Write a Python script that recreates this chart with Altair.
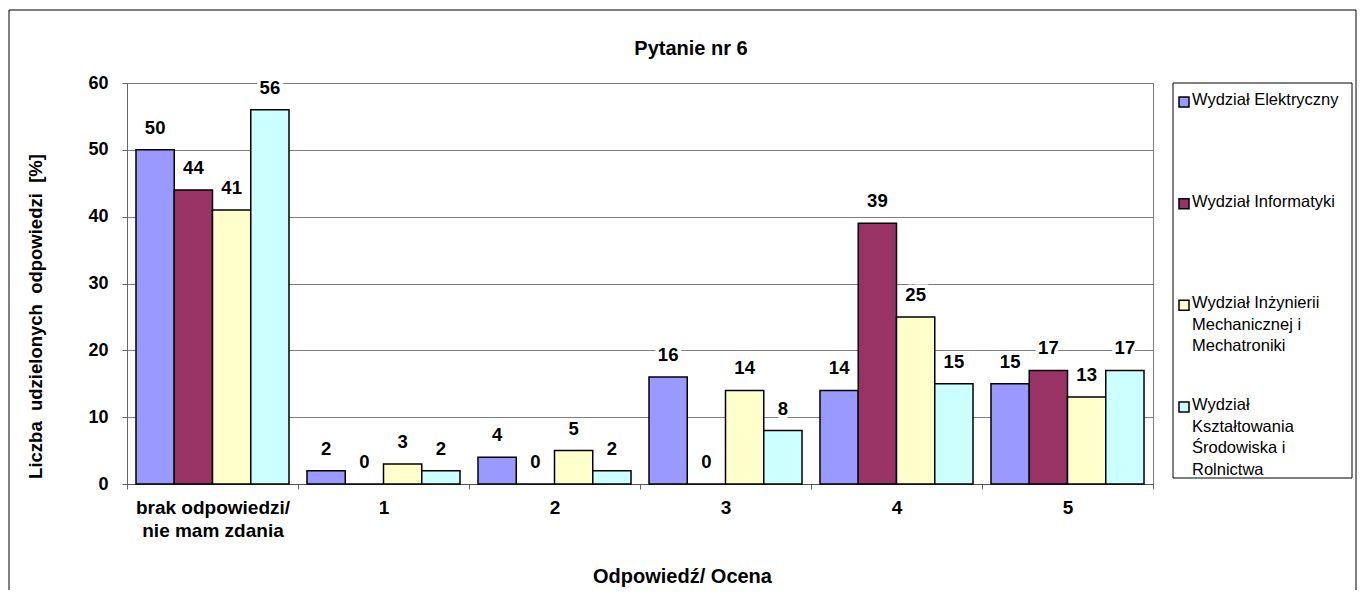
import altair as alt
import pandas as pd

categories = ["brak odpowiedzi/\nnie mam zdania", "1", "2", "3", "4", "5"]
series = [
    "Wydział Elektryczny",
    "Wydział Informatyki",
    "Wydział Inżynierii Mechanicznej i Mechatroniki",
    "Wydział Kształtowania Środowiska i Rolnictwa",
]
legend_labels = [
    "Wydział Elektryczny",
    "Wydział Informatyki",
    "Wydział Inżynierii\nMechanicznej i\nMechatroniki",
    "Wydział\nKształtowania\nŚrodowiska i\nRolnictwa",
]
colors = ["#9999FF", "#993366", "#FFFFCC", "#CCFFFF"]
elektryczny = [50, 2, 4, 16, 14, 15]
informatyki = [44, 0, 0, 0, 39, 17]
inzynierii = [41, 3, 5, 14, 25, 13]
ksztaltowania = [56, 2, 2, 8, 15, 17]
y_ticks = [0, 10, 20, 30, 40, 50, 60]

FONT = "Liberation Sans"
NB = "\u00a0"

rows = []
for s, vals in zip(series, [elektryczny, informatyki, inzynierii, ksztaltowania]):
    for c, v in zip(categories, vals):
        rows.append({"category": c, "series": s, "value": v})
df = pd.DataFrame(rows)

leg_df = pd.DataFrame({"series": series, "label": legend_labels, "row": list(range(len(series)))})

x_enc = alt.X(
    "category:N",
    sort=categories,
    scale=alt.Scale(paddingInner=0, paddingOuter=0),
    axis=alt.Axis(
        title="Odpowiedź/ Ocena",
        labelExpr="split(datum.label, '\\n')",
        labelAngle=0,
        labelFontSize=19,
        labelFontWeight="bold",
        labelColor="black",
        labelPadding=9,
        labelLineHeight=23,
        labelFont=FONT,
        tickBand="extent",
        tickSize=5,
        tickColor="#666666",
        domainColor="#555555",
        grid=False,
        titleFontSize=20,
        titleFontWeight="bold",
        titleFont=FONT,
        titleColor="black",
        titleX=555,
        titleY=92,
        titleBaseline="middle",
        titleAlign="center",
    ),
)
xo_enc = alt.XOffset(
    "series:N", sort=series,
    scale=alt.Scale(domain=series, paddingInner=0, paddingOuter=0.235),
)
y_enc = alt.Y(
    "value:Q",
    scale=alt.Scale(domain=[0, 60], nice=False),
    axis=alt.Axis(
        values=y_ticks,
        title=f"Liczba{NB}{NB}udzielonych{NB}{NB}odpowiedzi{NB}{NB}[%]",
        labelFontSize=18,
        labelFontWeight="bold",
        labelColor="black",
        labelFont=FONT,
        labelPadding=14,
        tickSize=5,
        tickColor="#666666",
        domainColor="#666666",
        gridColor="#808080",
        gridWidth=1,
        titleFontSize=18.5,
        titleFontWeight="bold",
        titleFont=FONT,
        titleColor="black",
        titleX=-92,
        titleY=233,
        titleBaseline="middle",
        titleAlign="center",
        titleAngle=270,
    ),
)
color_enc = alt.Color("series:N", scale=alt.Scale(domain=series, range=colors), legend=None)

base = alt.Chart(df).encode(x=x_enc, xOffset=xo_enc, y=y_enc)

bars = base.mark_bar(stroke="black", strokeWidth=1.5, opacity=1).encode(color=color_enc)
halo = base.mark_text(
    dy=-22, baseline="middle", fontSize=18.5, fontWeight="bold", font=FONT,
    fill="white", stroke="white", strokeWidth=7,
).encode(text="value:Q")
labels = base.mark_text(
    dy=-22, baseline="middle", fontSize=18.5, fontWeight="bold", font=FONT, color="black",
).encode(text="value:Q")

main = alt.layer(bars, halo, labels)

leg_base = alt.Chart(leg_df)
leg_y = alt.Y("row:Q", scale=alt.Scale(domain=[0, 3], range=[19, 324]), axis=None)
leg_sym = leg_base.mark_square(size=100, filled=True, stroke="black", strokeWidth=1.5, opacity=1).encode(
    x=alt.value(1057), y=leg_y, color=color_enc
)
leg_text = leg_base.mark_text(
    align="left", baseline="top", dy=-10, lineBreak="\n", fontSize=16.5, lineHeight=21.5,
    font=FONT, color="black",
).encode(x=alt.value(1065), y=leg_y, text="label:N")
legend = alt.layer(leg_sym, leg_text)

one = pd.DataFrame({"k": [0]})
outer_box = alt.Chart(one).mark_rect(fillOpacity=0, stroke="black", strokeWidth=1).encode(
    x=alt.value(-118), x2=alt.value(1229), y=alt.value(-73), y2=alt.value(520)
)
legend_box = alt.Chart(one).mark_rect(fillOpacity=0, stroke="black", strokeWidth=1).encode(
    x=alt.value(1046), x2=alt.value(1225), y=alt.value(0), y2=alt.value(395)
)
title = alt.Chart(one).mark_text(
    text="Pytanie nr 6", fontSize=20, fontWeight="bold", font=FONT, color="black", baseline="middle"
).encode(x=alt.value(564), y=alt.value(-34))

chart = (
    alt.layer(main, legend, outer_box, legend_box, title)
    .resolve_scale(y="independent")
    .properties(
        width=1026,
        height=401,
        autosize=alt.AutoSizeParams(type="none"),
        padding={"left": 119, "top": 75, "right": 204, "bottom": 106},
    )
    .configure(font=FONT)
    .configure_view(stroke="#808080")
)

chart.save("out.html", embed_options={"renderer": "svg", "actions": False})
